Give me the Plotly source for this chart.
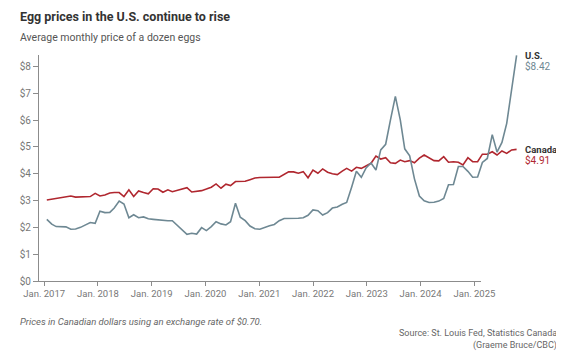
import datetime as dt
import plotly.graph_objects as go

# ---- data -------------------------------------------------------------
start_year, start_month = 2017, 1
us_prices = [
    2.30, 2.12, 2.03, 2.03, 2.02, 1.93, 1.94, 2.00, 2.08, 2.18, 2.15, 2.60,  # 2017
    2.55, 2.56, 2.72, 2.98, 2.87, 2.36, 2.47, 2.36, 2.39, 2.32, 2.30, 2.28,  # 2018
    2.25, 2.25, 2.25, 2.09, 1.92, 1.74, 1.78, 1.75, 1.99, 1.88, 2.03, 2.21,  # 2019
    2.13, 2.09, 2.21, 2.90, 2.38, 2.25, 2.05, 1.95, 1.93, 2.00, 2.06, 2.11,  # 2020
    2.25, 2.33, 2.33, 2.33, 2.34, 2.36, 2.45, 2.65, 2.62, 2.46, 2.55, 2.72,  # 2021
    2.76, 2.86, 2.93, 3.50, 4.09, 3.87, 4.22, 4.40, 4.14, 4.89, 5.10, 6.00,  # 2022
    6.89, 6.01, 4.93, 4.67, 3.81, 3.17, 2.99, 2.93, 2.94, 2.98, 3.08, 3.59,  # 2023
    3.60, 4.27, 4.27, 4.09, 3.87, 3.88, 4.42, 4.57, 5.46, 4.81, 5.17, 5.88,  # 2024
    7.07, 8.42,                                                              # 2025
]
canada_prices = [
    3.02, 3.05, 3.08, 3.11, 3.14, 3.17, 3.13, 3.13, 3.14, 3.15, 3.27, 3.17,  # 2017
    3.21, 3.28, 3.30, 3.30, 3.15, 3.40, 3.15, 3.36, 3.30, 3.25, 3.44, 3.43,  # 2018
    3.31, 3.40, 3.33, 3.38, 3.42, 3.48, 3.32, 3.35, 3.37, 3.43, 3.50, 3.62,  # 2019
    3.46, 3.61, 3.56, 3.71, 3.71, 3.72, 3.78, 3.84, 3.86, 3.87, 3.87, 3.87,  # 2020
    3.87, 3.96, 4.07, 4.07, 4.02, 4.08, 3.85, 4.14, 4.02, 4.18, 4.06, 4.00,  # 2021
    3.97, 4.10, 4.20, 4.10, 4.24, 4.20, 4.29, 4.39, 4.66, 4.55, 4.60, 4.41,  # 2022
    4.39, 4.51, 4.45, 4.49, 4.41, 4.58, 4.70, 4.60, 4.49, 4.48, 4.64, 4.43,  # 2023
    4.45, 4.43, 4.33, 4.60, 4.45, 4.45, 4.73, 4.73, 4.82, 4.70, 4.85, 4.76,  # 2024
    4.89, 4.91,                                                              # 2025
]
tick_years = [2017, 2018, 2019, 2020, 2021, 2022, 2023, 2024, 2025]
tick_labels = [f"Jan. {y}" for y in tick_years]
y_ticks = [0, 1, 2, 3, 4, 5, 6, 7, 8]
y_tick_labels = [f"${v}" for v in y_ticks]

# ---- build month dates ------------------------------------------------
def month_date(i):
    y = start_year + (start_month - 1 + i) // 12
    m = (start_month - 1 + i) % 12 + 1
    return dt.datetime(y, m, 1)

dates = [month_date(i) for i in range(len(us_prices))]
tick_dates = [dt.datetime(y, 1, 1) for y in tick_years]

US_COLOR = "#6E8893"
CA_COLOR = "#B0272F"
AXIS_COLOR = "#8C8C8C"
TICK_FONT = "#777777"
FONT = "Roboto, Arial, sans-serif"

# page body has an 8px margin; lay out in page pixels, then offset
OFF = 8
W, H = 564 - OFF, 355 - OFF
L, R = 27 - OFF, 520 - OFF      # plot area (figure pixels)
T, B = 55 - OFF, 281 - OFF
AXIS_END = 480 - OFF            # where the drawn x-axis line stops


def date_range(d_a, p_a, d_b, p_b, left, right):
    """Date range so that d_a lands at pixel p_a and d_b at p_b."""
    dpp = (d_b - d_a).total_seconds() / 86400 / (p_b - p_a)
    r0 = d_a - dt.timedelta(days=(p_a - left) * dpp)
    r1 = r0 + dt.timedelta(days=(right - left) * dpp)
    return [r0, r1]


# data axis: first month at page px 35, last month at page px 516.5
data_range = date_range(dates[0], 35.0 - OFF, dates[-1], 516.5 - OFF, L, R)
# label axis: ticks as placed in the source chart
tick_range = date_range(tick_dates[0], 32.3 - OFF, tick_dates[-1], 473.3 - OFF, L, AXIS_END)


def px_x(px):   # page px -> paper x
    return (px - OFF - L) / (R - L)


def px_y(py):   # page px -> paper y
    return (B - (py - OFF)) / (B - T)


fig = go.Figure()
# invisible helper so the label axis is drawn
fig.add_trace(go.Scatter(x=tick_dates, y=[0] * len(tick_dates), xaxis="x2", yaxis="y",
                         mode="markers", marker=dict(opacity=0, size=1),
                         hoverinfo="skip", showlegend=False))
fig.add_trace(go.Scatter(x=dates, y=canada_prices, mode="lines",
                         line=dict(color=CA_COLOR, width=1.6),
                         name="Canada", hoverinfo="skip", cliponaxis=False))
fig.add_trace(go.Scatter(x=dates, y=us_prices, mode="lines",
                         line=dict(color=US_COLOR, width=1.6),
                         name="U.S.", hoverinfo="skip", cliponaxis=False))

# end labels
for name, vals, col in [("U.S.", us_prices, US_COLOR), ("Canada", canada_prices, CA_COLOR)]:
    fig.add_annotation(x=dates[-1], y=vals[-1], text=f"<b>{name}</b>",
                       showarrow=False, xanchor="left", yanchor="middle",
                       xshift=6, yshift=0,
                       font=dict(family=FONT, size=9.5, color="#333333"))
    fig.add_annotation(x=dates[-1], y=vals[-1], text=f"${vals[-1]:.2f}",
                       showarrow=False, xanchor="left", yanchor="middle",
                       xshift=6, yshift=-11,
                       font=dict(family=FONT, size=10, color=col))

# titles & footer
fig.add_annotation(xref="paper", yref="paper", x=px_x(8), y=px_y(16),
                   text="<b>Egg prices in the U.S. continue to rise</b>",
                   showarrow=False, xanchor="left", yanchor="middle", xshift=-2,
                   font=dict(family=FONT, size=12.5, color="#333333"))
fig.add_annotation(xref="paper", yref="paper", x=px_x(8), y=px_y(37),
                   text="Average monthly price of a dozen eggs",
                   showarrow=False, xanchor="left", yanchor="middle", xshift=-2,
                   font=dict(family=FONT, size=10.5, color="#555555"))
fig.add_annotation(xref="paper", yref="paper", x=px_x(8), y=px_y(321),
                   text="<i>Prices in Canadian dollars using an exchange rate of $0.70.</i>",
                   showarrow=False, xanchor="left", yanchor="middle", xshift=-2,
                   font=dict(family=FONT, size=9.5, color="#666666"))
fig.add_annotation(xref="paper", yref="paper", x=px_x(558), y=px_y(333),
                   text="Source: St. Louis Fed, Statistics Canada",
                   showarrow=False, xanchor="right", yanchor="middle", xshift=2,
                   font=dict(family=FONT, size=9, color="#666666"))
fig.add_annotation(xref="paper", yref="paper", x=px_x(558), y=px_y(345),
                   text="(Graeme Bruce/CBC)",
                   showarrow=False, xanchor="right", yanchor="middle", xshift=2,
                   font=dict(family=FONT, size=9, color="#666666"))

fig.update_layout(
    width=W, height=H,
    margin=dict(l=L, r=W - R, t=T, b=H - B, pad=0),
    paper_bgcolor="white", plot_bgcolor="rgba(0,0,0,0)",
    showlegend=False,
    font=dict(family=FONT, size=10, color=TICK_FONT),
    xaxis=dict(type="date", range=data_range, visible=False,
               showgrid=False, zeroline=False),
    xaxis2=dict(type="date", range=tick_range, anchor="y",
                domain=[0, (AXIS_END - L) / (R - L)],
                tickvals=tick_dates, ticktext=tick_labels,
                showgrid=False, zeroline=False,
                showline=True, linecolor=AXIS_COLOR, linewidth=1,
                ticks="outside", ticklen=4, tickcolor=AXIS_COLOR, tickwidth=1,
                tickfont=dict(family=FONT, size=9.5, color=TICK_FONT)),
    yaxis=dict(range=[0, 8.43], tickvals=y_ticks, ticktext=y_tick_labels,
               showgrid=False, zeroline=False,
               showline=True, linecolor=AXIS_COLOR, linewidth=1,
               ticks="outside", ticklen=5, tickcolor=AXIS_COLOR, tickwidth=1,
               tickfont=dict(family=FONT, size=10, color=TICK_FONT)),
)

fig.write_html("out.html")
